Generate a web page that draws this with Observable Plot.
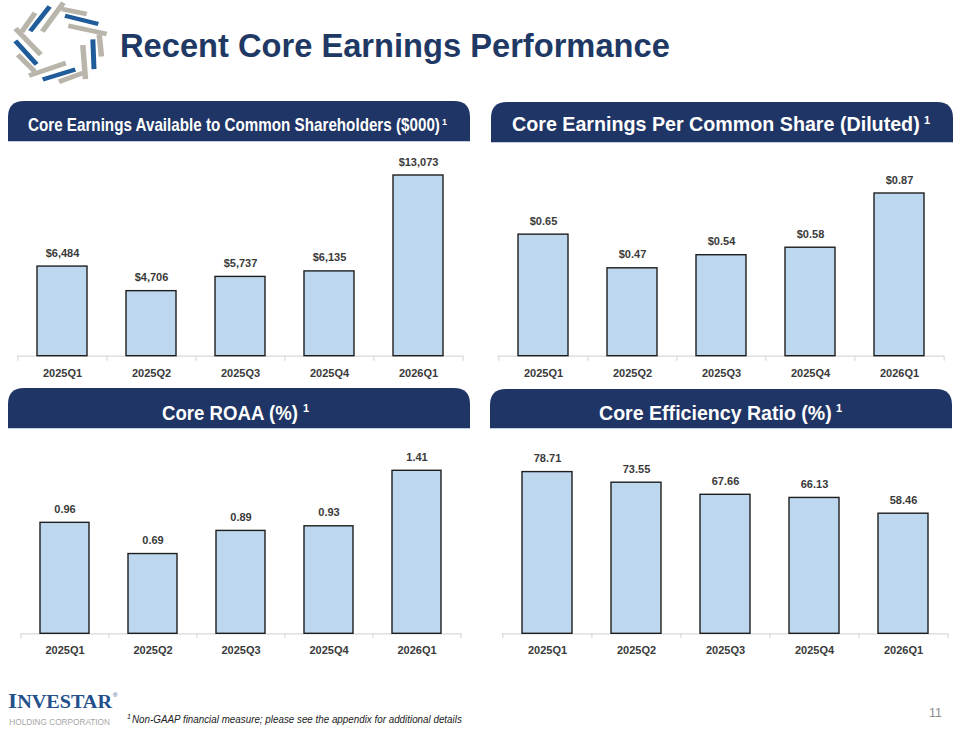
<!DOCTYPE html>
<html>
<head>
<meta charset="utf-8">
<script src="https://cdn.jsdelivr.net/npm/d3@7"></script>
<script src="https://cdn.jsdelivr.net/npm/@observablehq/plot@0.6"></script>
<style>
  body { margin: 0; background: #fff; }
  #slide { position: relative; width: 960px; height: 730px; overflow: hidden; background: #fff; }
  .panel { position: absolute; }
  #overlay { position: absolute; left: 0; top: 0; pointer-events: none; }
</style>
</head>
<body>
<div id="slide"></div>
<script>
// Quarterly core performance metrics
const quarters = ["2025Q1", "2025Q2", "2025Q3", "2025Q4", "2026Q1"];
const coreEarnings = [6484, 4706, 5737, 6135, 13073];       // $000
const coreEps = [0.65, 0.47, 0.54, 0.58, 0.87];              // $ per diluted share
const coreRoaa = [0.96, 0.69, 0.89, 0.93, 1.41];             // %
const coreEfficiency = [78.71, 73.55, 67.66, 66.13, 58.46];  // %

const panelTitles = [
  "Core Earnings Available to Common Shareholders ($000)",
  "Core Earnings Per Common Share (Diluted)",
  "Core ROAA (%)",
  "Core Efficiency Ratio (%)"
];
const slideTitle = "Recent Core Earnings Performance";
const footnote = "Non-GAAP financial measure; please see the appendix for additional details";
const pageNumber = "11";

const NAVY = "#1f3565";
const SANS = "'Liberation Sans', Arial, sans-serif";
const slide = document.getElementById("slide");

function barPanel({values, fmt, yMax, left, top, width, height, ml, mr, mt, mb}) {
  const data = quarters.map((q, i) => ({q, v: values[i]}));
  const step = (width - ml - mr) / quarters.length;
  const chart = Plot.plot({
    width, height,
    marginLeft: ml, marginRight: mr, marginTop: mt, marginBottom: mb,
    x: {domain: quarters, paddingInner: 0.44, paddingOuter: 0.22, label: null},
    y: {domain: [0, yMax], axis: null},
    style: {fontFamily: SANS, fontSize: "11px", fontWeight: "bold", color: "#3a3a3a", background: "none", overflow: "visible"},
    marks: [
      // category axis line with boundary ticks
      Plot.ruleY([0], {stroke: "#d9d9d9", strokeWidth: 1.2}),
      Plot.ruleX(quarters, {x: d => d, y1: 0, y2: 0, insetBottom: -5, dx: -step / 2, stroke: "#d9d9d9", strokeWidth: 1.2}),
      Plot.ruleX(quarters.slice(-1), {x: d => d, y1: 0, y2: 0, insetBottom: -5, dx: step / 2, stroke: "#d9d9d9", strokeWidth: 1.2}),
      Plot.barY(data, {x: "q", y: "v", fill: "#bdd7ee", stroke: "#1e1e1e", strokeWidth: 1.4}),
      Plot.text(data, {x: "q", y: "v", text: d => fmt(d.v), dy: -13.5, lineAnchor: "middle",
        fill: "#3a3a3a", fontSize: 11, fontWeight: "bold"}),
      Plot.axisX({tickSize: 0, tickPadding: 12.7, label: null, fontSize: 11, fontWeight: "bold", fill: "#3a3a3a"})
    ]
  });
  const holder = document.createElement("div");
  holder.className = "panel";
  holder.style.left = left + "px";
  holder.style.top = top + "px";
  holder.appendChild(chart);
  slide.appendChild(holder);
}

const money = d3.format(",");
barPanel({values: coreEarnings, fmt: v => "$" + money(v), yMax: 14520,
  left: 0, top: 145, width: 480, height: 245, ml: 17, mr: 17, mt: 10, mb: 34.3});
barPanel({values: coreEps, fmt: v => "$" + v.toFixed(2), yMax: 1.0732,
  left: 480, top: 145, width: 480, height: 245, ml: 17.3, mr: 16, mt: 10, mb: 34.3});
barPanel({values: coreRoaa, fmt: v => v.toFixed(2), yMax: 1.5856,
  left: 0, top: 440, width: 480, height: 230, ml: 21, mr: 19, mt: 10, mb: 36.7});
barPanel({values: coreEfficiency, fmt: v => v.toFixed(2), yMax: 89.22,
  left: 480, top: 440, width: 480, height: 230, ml: 22, mr: 12, mt: 10, mb: 36.7});

// Slide furniture: logo, title, panel headers, footer
const svg = d3.select(slide).append("svg")
  .attr("id", "overlay").attr("width", 960).attr("height", 730);

// pinwheel logo: five blades of three strips each, on a slightly flattened circle
const logo = svg.append("g").attr("transform", "translate(60,44) scale(1,0.86)");
const blade = [
  {c: "#b9b5ab", w: 5.5, p: [[1.7, -40.7], [26.7, -34.9]]},
  {c: "#1f5c99", w: 5, p: [[5, -32.9], [38.3, -23.3]]},
  {c: "#b9b5ab", w: 5.5, p: [[8.3, -21.3], [46.7, -11.6]]}
];
for (let i = 0; i < 5; i++) {
  const g = logo.append("g").attr("transform", `rotate(${72 * i})`);
  for (const s of blade) {
    g.append("line")
      .attr("x1", s.p[0][0]).attr("y1", s.p[0][1])
      .attr("x2", s.p[1][0]).attr("y2", s.p[1][1])
      .attr("stroke", s.c).attr("stroke-width", s.w);
  }
}

// Text squeezed horizontally to a given advance width
function fittedText(x, y, width, attrs, str) {
  const t = svg.append("text").attr("x", 0).attr("y", 0);
  for (const [k, v] of Object.entries(attrs)) t.attr(k, v);
  t.text(str);
  const natural = t.node().getComputedTextLength();
  t.attr("transform", `translate(${x},${y}) scale(${width / natural},1)`);
  return t;
}

fittedText(120, 56.7, 550,
  {"font-family": SANS, "font-weight": "bold", "font-size": 34, fill: "#203864"}, slideTitle);

function headerShape(x0, x1, y0, y1, r) {
  return `M${x0},${y1}V${y0 + r}Q${x0},${y0} ${x0 + r},${y0}H${x1 - r}Q${x1},${y0} ${x1},${y0 + r}V${y1}Z`;
}
const headers = [
  {x0: 8, x1: 470, y0: 101, y1: 141, tx: 28, tw: 412, base: 130.7, fs: 18, sx: 442, sup: 9, supY: 124.5},
  {x0: 491, x1: 953, y0: 102, y1: 142, tx: 512, tw: 408, base: 131.3, fs: 19.5, sx: 924, sup: 11, supY: 123.5},
  {x0: 8, x1: 470, y0: 388, y1: 428, tx: 162, tw: 136, base: 420, fs: 19.5, sx: 303, sup: 11, supY: 412.2},
  {x0: 490, x1: 952, y0: 389, y1: 428, tx: 599, tw: 233, base: 420, fs: 19.5, sx: 836, sup: 11, supY: 412.2}
];
headers.forEach((h, i) => {
  svg.append("path").attr("d", headerShape(h.x0, h.x1, h.y0, h.y1, 16)).attr("fill", NAVY);
  svg.append("line").attr("x1", h.x0).attr("x2", h.x1).attr("y1", h.y1 + 0.5).attr("y2", h.y1 + 0.5)
    .attr("stroke", "#c3cce0").attr("stroke-width", 1);
  fittedText(h.tx, h.base, h.tw,
    {"font-family": SANS, "font-weight": "bold", "font-size": h.fs, fill: "#fff"}, panelTitles[i]);
  svg.append("text")
    .attr("x", h.sx).attr("y", h.supY)
    .attr("font-family", SANS).attr("font-weight", "bold").attr("font-size", h.sup)
    .attr("fill", "#fff")
    .text("1");
});

// footer
const brand = svg.append("text")
  .attr("x", 8).attr("y", 708)
  .attr("font-family", "'Liberation Serif', 'DejaVu Serif', serif")
  .attr("font-weight", "bold")
  .attr("fill", "#24508c")
  .attr("textLength", 104).attr("lengthAdjust", "spacingAndGlyphs");
brand.append("tspan").attr("font-size", 21).text("I");
brand.append("tspan").attr("font-size", 18).text("NVESTAR");
svg.append("text").attr("x", 113).attr("y", 697).attr("font-family", SANS).attr("font-size", 6)
  .attr("fill", "#24508c").text("®");
svg.append("text")
  .attr("x", 9.3).attr("y", 724.5)
  .attr("font-family", SANS).attr("font-size", 8.5).attr("fill", "#a6a6a6")
  .attr("textLength", 100.7).attr("lengthAdjust", "spacingAndGlyphs")
  .text("HOLDING CORPORATION");

svg.append("text")
  .attr("x", 127).attr("y", 718.5)
  .attr("font-family", SANS).attr("font-style", "italic").attr("font-size", 7)
  .attr("fill", "#222").text("1");
fittedText(132, 722.7, 330,
  {"font-family": SANS, "font-style": "italic", "font-size": 10, fill: "#222"}, footnote);

svg.append("text")
  .attr("x", 929).attr("y", 717)
  .attr("font-family", SANS).attr("font-size", 12.5).attr("fill", "#8c8c8c")
  .text(pageNumber);
</script>
</body>
</html>
